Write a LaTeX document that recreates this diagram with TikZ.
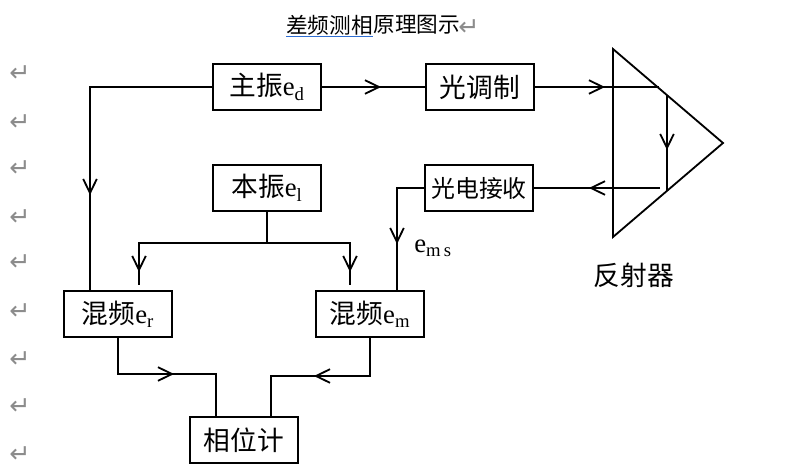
\documentclass[tikz,border=0pt]{standalone}
\usepackage{fontspec}
\setmainfont{Liberation Serif}
\newfontfamily\cjk{Noto Sans CJK SC}
\newfontfamily\pmfont{DejaVu Sans}
\usetikzlibrary{arrows.meta,decorations.markings}
\definecolor{spell}{RGB}{47,110,210}

\begin{document}
\begin{tikzpicture}[
    box/.style={shape=rectangle,draw=black,line width=1.3pt,minimum width=2.7cm,minimum height=1.15cm,inner sep=0pt,font=\fontsize{19}{22}\selectfont},
    wire/.style={line width=1.3pt,line join=miter},
    midarr/.style={postaction={decorate},decoration={markings,mark=at position #1 with {\arrow{Straight Barb[length=3.5mm,width=3.4mm,line width=1.3pt]}}}},
    para/.style={text=black!45,font=\pmfont\fontsize{18}{18}\selectfont,inner sep=0pt}
]
    \useasboundingbox (0,0) rectangle (20,11.825);

    % title
    \node[inner sep=0pt,anchor=west,font=\cjk\fontsize{15.4}{17}\selectfont] (t1) at (7.15,11.2) {差频测相};
    \node[inner sep=0pt,anchor=west,font=\cjk\fontsize{15.4}{17}\selectfont] (t2) at (t1.east) {原理图示};
    \node[para] (t3) at (11.725,11.125) {↵};
    \draw[spell,line width=0.8pt] ([yshift=-0.02cm]t1.south west) -- ([yshift=-0.02cm]t1.south east);

    % paragraph marks
    \foreach \y [count=\i] in {9.975,8.75,7.6,6.375,5.25,4.025,2.825,1.65,0.45}
        \node[para] (p\i) at (0.5,\y) {↵};

    % blocks
    \node[box] (zd)  at (6.675,9.65)  {{\cjk 主振}e\textsubscript{d}};
    \node[box] (lo)  at (6.675,7.125) {{\cjk 本振}e\textsubscript{l}};
    \node[box] (mod) at (12,9.65)     {\cjk 光调制};
    \node[box,font=\fontsize{17}{20}\selectfont] (rcv) at (11.975,7.125) {\cjk 光电接收};
    \node[box] (er)  at (2.95,3.975)  {{\cjk 混频}e\textsubscript{r}};
    \node[box] (em)  at (9.25,3.975)  {{\cjk 混频}e\textsubscript{m}};
    \node[box] (ph)  at (6.1,0.825)   {\cjk 相位计};

    \node[anchor=west,inner sep=0pt,font=\fontsize{19}{22}\selectfont] (ems) at (10.35,5.62) {e\textsubscript{m\,s}};
    \node[inner sep=0pt,font=\cjk\fontsize{19}{22}\selectfont] (refl) at (15.85,4.95) {反射器};

    % reflector
    \coordinate (tt) at (15.325,10.6);
    \coordinate (tb) at (15.325,5.9);
    \coordinate (tp) at (18.075,8.25);
    \draw[wire] (tt) -- (tp) -- (tb) -- cycle;

    \coordinate (hin)  at (16.47,9.65);
    \coordinate (vtop) at (16.675,9.446);
    \coordinate (vbot) at (16.675,7.054);
    \coordinate (hout) at (16.5,7.125);

    % corners
    \coordinate (zl)    at (2.25,9.65);
    \coordinate (split) at (6.675,5.75);
    \coordinate (bl)    at (3.475,4.7);
    \coordinate (br)    at (8.75,4.7);
    \coordinate (rl)    at (9.925,7.125);
    \coordinate (erc)   at (5.4,2.475);
    \coordinate (emc)   at (6.775,2.425);

    % connections
    \draw[wire,midarr=-2.375cm] (zd) -- (zl) -- (zl |- er.north);
    \draw[wire,midarr=-1.1cm]   (zd) -- (mod);
    \draw[wire,midarr=-1.345cm] (mod) -- (hin);
    \draw[wire,midarr=-1.02cm]  (vtop) -- (vbot);
    \draw[wire,midarr=-1.375cm] (hout) -- (rcv);
    \draw[wire,midarr=-1.15cm]  (rcv) -- (rl) -- (rl |- em.north);

    \draw[wire] (lo) -- (split);
    \draw[wire,midarr=-0.325cm] (split) -| (bl);
    \draw[wire,midarr=-0.325cm] (split) -| (br);

    \draw[wire,midarr=-2.1cm]   (er) |- (erc) -- (erc |- ph.north);
    \draw[wire,midarr=-2.075cm] (em) |- (emc) -- (emc |- ph.north);
\end{tikzpicture}
\end{document}
